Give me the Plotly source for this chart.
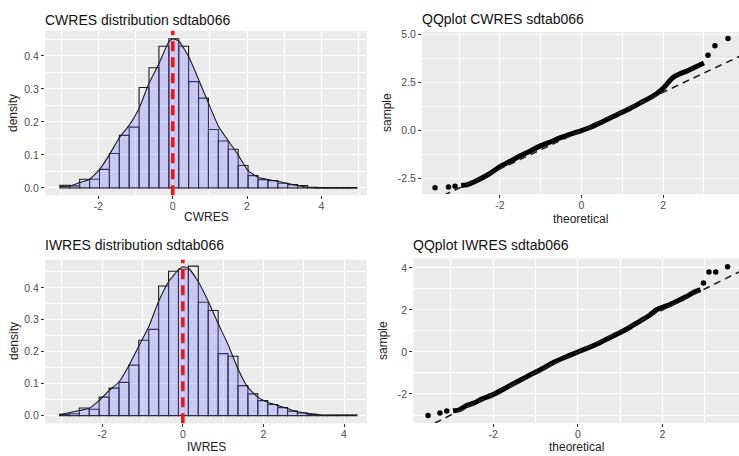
import numpy as np
import plotly.graph_objects as go

W, H = 739, 456
FONT = "Liberation Sans, Arial, sans-serif"

# ---------------- data ----------------
# CWRES histogram (density scale), 30 bins
cw_bin_start = -3.04
cw_bin_width = 0.2667
cw_hist = [0.008, 0.006, 0.026, 0.026, 0.056, 0.104, 0.159, 0.184, 0.304, 0.364,
           0.429, 0.452, 0.429, 0.322, 0.272, 0.177, 0.142, 0.117, 0.068, 0.037,
           0.025, 0.022, 0.014, 0.010, 0.007, 0.002, 0.001, 0.001, 0.001, 0.001]
cw_dens_x = [-3.04, -2.77, -2.51, -2.24, -1.97, -1.71, -1.44, -1.17, -0.91, -0.64,
             -0.37, -0.11, 0.0, 0.16, 0.43, 0.70, 0.96, 1.23, 1.50, 1.76,
             2.03, 2.30, 2.56, 2.83, 3.10, 3.37, 3.63, 3.90, 4.96]
cw_dens_y = [0.004, 0.006, 0.016, 0.026, 0.056, 0.100, 0.152, 0.190, 0.240, 0.317,
             0.377, 0.442, 0.452, 0.445, 0.397, 0.327, 0.257, 0.187, 0.142, 0.100,
             0.052, 0.032, 0.025, 0.020, 0.013, 0.007, 0.002, 0.000, 0.000]
cw_mean = 0.0

# IWRES histogram (density scale), 30 bins
iw_bin_start = -3.06
iw_bin_width = 0.246
iw_hist = [0.004, 0.006, 0.024, 0.020, 0.058, 0.086, 0.104, 0.158, 0.236, 0.270,
           0.406, 0.452, 0.458, 0.468, 0.355, 0.329, 0.194, 0.186, 0.094, 0.068,
           0.047, 0.035, 0.025, 0.014, 0.008, 0.004, 0.001, 0.002, 0.002, 0.002]
iw_dens_x = [-3.06, -2.57, -2.32, -2.08, -1.83, -1.58, -1.34, -1.09, -0.84, -0.60,
             -0.35, -0.11, 0.0, 0.13, 0.38, 0.63, 0.87, 1.12, 1.37, 1.61,
             1.86, 2.10, 2.35, 2.60, 2.84, 3.09, 3.34, 3.59, 4.32]
iw_dens_y = [0.003, 0.016, 0.023, 0.047, 0.078, 0.106, 0.156, 0.218, 0.280, 0.358,
             0.420, 0.456, 0.466, 0.463, 0.420, 0.358, 0.290, 0.223, 0.146, 0.089,
             0.058, 0.042, 0.032, 0.022, 0.012, 0.007, 0.003, 0.001, 0.001]
iw_mean = 0.0

# QQ CWRES: dense band and sparse extreme points (theoretical, sample)
qq_cw_band_t = [-2.95, -2.81, -2.65, -2.49, -2.25, -2.0, -1.75, -1.51, -1.25, -1.02,
                -0.75, -0.53, -0.25, 0.0, 0.25, 0.45, 0.70, 0.94, 1.20, 1.43,
                1.65, 1.84, 2.0, 2.10, 2.25, 2.40, 2.58, 2.82, 3.0]
qq_cw_band_s = [-2.86, -2.83, -2.70, -2.53, -2.25, -1.88, -1.60, -1.33, -1.06, -0.81,
                -0.58, -0.38, -0.17, 0.0, 0.20, 0.40, 0.65, 0.90, 1.17, 1.43,
                1.68, 1.92, 2.20, 2.45, 2.78, 2.95, 3.10, 3.34, 3.52]
qq_cw_pts_t = [-3.59, -3.26, -3.10, 3.10, 3.27, 3.59]
qq_cw_pts_s = [-2.98, -2.95, -2.91, 3.93, 4.42, 4.80]

# QQ IWRES
qq_iw_band_t = [-2.95, -2.80, -2.63, -2.47, -2.25, -2.0, -1.75, -1.53, -1.25, -1.06,
                -0.80, -0.58, -0.30, 0.0, 0.25, 0.52, 0.75, 0.99, 1.25, 1.46,
                1.70, 1.86, 2.17, 2.40, 2.57, 2.75, 2.90]
qq_iw_band_s = [-2.80, -2.75, -2.55, -2.44, -2.22, -2.03, -1.76, -1.52, -1.22, -1.02,
                -0.75, -0.50, -0.25, 0.0, 0.20, 0.44, 0.68, 0.91, 1.20, 1.46,
                1.75, 2.01, 2.25, 2.47, 2.64, 2.85, 2.97]
qq_iw_pts_t = [-3.54, -3.26, -3.10, 2.97, 3.10, 3.26, 3.54]
qq_iw_pts_s = [-3.02, -2.91, -2.81, 3.28, 3.80, 3.80, 4.06]

qq_line_slope = 1.0
qq_line_intercept = 0.0

titles = ["CWRES distribution sdtab066", "QQplot CWRES sdtab066",
          "IWRES distribution sdtab066", "QQplot IWRES sdtab066"]

hist_x_ticks = [-2, 0, 2, 4]
hist_x_labels = ["-2", "0", "2", "4"]
hist_y_ticks = [0.0, 0.1, 0.2, 0.3, 0.4]
hist_y_labels = ["0.0", "0.1", "0.2", "0.3", "0.4"]
qq_x_ticks = [-2, 0, 2]
qq_x_labels = ["-2", "0", "2"]
qq_cw_y_ticks = [-2.5, 0.0, 2.5, 5.0]
qq_cw_y_labels = ["-2.5", "0.0", "2.5", "5.0"]
qq_iw_y_ticks = [-2, 0, 2, 4]
qq_iw_y_labels = ["-2", "0", "2", "4"]

# ---------------- layout helpers ----------------
def xd(a, b):
    return [a / W, b / W]

def yd(top, bottom):
    return [1 - bottom / H, 1 - top / H]

BAR_LINE = "#1a1a1a"
DENS_FILL = "rgba(110,110,255,0.28)"
RED = "#f01414"

fig = go.Figure()

def add_hist(xa, ya, start, width, heights, dx, dy, mean):
    edges = start + width * np.arange(len(heights) + 1)
    centers = (edges[:-1] + edges[1:]) / 2
    fig.add_trace(go.Bar(x=centers, y=heights, width=width,
                         marker=dict(color="rgba(0,0,0,0)",
                                     line=dict(color=BAR_LINE, width=1.1)),
                         xaxis=xa, yaxis=ya, showlegend=False, hoverinfo="skip"))
    fig.add_trace(go.Scatter(x=dx, y=dy, mode="lines", fill="tozeroy",
                             fillcolor=DENS_FILL,
                             line=dict(color="#1a1a1a", width=1.1, shape="spline", smoothing=0.5),
                             xaxis=xa, yaxis=ya, showlegend=False, hoverinfo="skip"))
    fig.add_shape(type="line", xref=xa, yref=ya + " domain", x0=mean, x1=mean, y0=0, y1=1,
                  line=dict(color=RED, width=3.6, dash="10px,6px"))

def add_qq(xa, ya, bt, bs, pt, ps, xr):
    fig.add_trace(go.Scatter(x=bt, y=bs, mode="lines",
                             line=dict(color="black", width=5, shape="spline", smoothing=0.6),
                             xaxis=xa, yaxis=ya, showlegend=False, hoverinfo="skip"))
    fig.add_trace(go.Scatter(x=pt, y=ps, mode="markers",
                             marker=dict(color="black", size=5.5),
                             xaxis=xa, yaxis=ya, showlegend=False, hoverinfo="skip"))
    lx = np.array(xr)
    fig.add_trace(go.Scatter(x=lx, y=qq_line_intercept + qq_line_slope * lx, mode="lines",
                             line=dict(color="#222222", width=1.6, dash="7px,5px"),
                             xaxis=xa, yaxis=ya, showlegend=False, hoverinfo="skip"))

add_hist("x", "y", cw_bin_start, cw_bin_width, cw_hist, cw_dens_x, cw_dens_y, cw_mean)
add_hist("x3", "y3", iw_bin_start, iw_bin_width, iw_hist, iw_dens_x, iw_dens_y, iw_mean)

cw_qx = [-3.91, 3.86]
iw_qx = [-3.89, 3.81]
add_qq("x2", "y2", qq_cw_band_t, qq_cw_band_s, qq_cw_pts_t, qq_cw_pts_s, cw_qx)
add_qq("x4", "y4", qq_iw_band_t, qq_iw_band_s, qq_iw_pts_t, qq_iw_pts_s, iw_qx)

def axis(domain, rng, tv, tt, anchor, mtick0, mdtick, standoff=0):
    d = dict(domain=domain, range=rng, anchor=anchor,
             tickmode="array", tickvals=tv, ticktext=tt,
             showgrid=True, gridcolor="white", gridwidth=1.2,
             zeroline=False, showline=False,
             ticks="outside", ticklen=3, tickwidth=1, tickcolor="#333333",
             tickfont=dict(family=FONT, size=10.5, color="#4d4d4d"),
             minor=dict(showgrid=True, gridcolor="white", gridwidth=0.6,
                        tickmode="linear", tick0=mtick0, dtick=mdtick, ticks=""),
             fixedrange=True)
    if standoff:
        d["ticklabelstandoff"] = standoff
    return d

fig.update_layout(
    width=W, height=H, margin=dict(l=0, r=0, t=0, b=0),
    paper_bgcolor="white", plot_bgcolor="#EBEBEB", barmode="overlay",
    font=dict(family=FONT),
    xaxis=axis(xd(45, 367), [-3.44, 5.23], hist_x_ticks, hist_x_labels, "y", -1, 2, -2),
    yaxis=axis(yd(27, 193), [-0.0225, 0.476], hist_y_ticks, hist_y_labels, "x", 0.05, 0.1),
    xaxis3=axis(xd(45, 367), [-3.42, 4.57], hist_x_ticks, hist_x_labels, "y3", -1, 2, -2),
    yaxis3=axis(yd(258, 423), [-0.024, 0.488], hist_y_ticks, hist_y_labels, "x3", 0.05, 0.1),
    xaxis2=axis(xd(422, 739), cw_qx, qq_x_ticks, qq_x_labels, "y2", -1, 2, -2),
    yaxis2=axis(yd(28.3, 191.7), [-3.31, 5.14], qq_cw_y_ticks, qq_cw_y_labels, "x2", 1.25, 2.5),
    xaxis4=axis(xd(413.3, 739), iw_qx, qq_x_ticks, qq_x_labels, "y4", -1, 2, -2),
    yaxis4=axis(yd(256.7, 422.7), [-3.38, 4.45], qq_iw_y_ticks, qq_iw_y_labels, "x4", 1, 2),
)

# titles, left-aligned on each panel's left edge
for text, xr, y in [(titles[0], "x", 16), (titles[1], "x2", 15),
                    (titles[2], "x3", 243), (titles[3], "x4", 243)]:
    fig.add_annotation(text=text, x=0, y=1 - y / H, xref=xr + " domain", yref="paper",
                       xanchor="left", yanchor="middle", showarrow=False, xshift=-2,
                       font=dict(family=FONT, size=14, color="#111111"))

# axis titles
for text, x, y, ang in [("CWRES", 206, 215, 0), ("density", 13, 110, -90),
                        ("theoretical", 580, 217, 0), ("sample", 387, 110, -90),
                        ("IWRES", 206, 447, 0), ("density", 14, 340, -90),
                        ("theoretical", 576, 447, 0), ("sample", 383, 340, -90)]:
    fig.add_annotation(text=text, x=x / W, y=1 - y / H, xref="paper", yref="paper",
                       xanchor="center", yanchor="middle", showarrow=False, textangle=ang,
                       font=dict(family=FONT, size=12, color="#222222"))

fig.write_html("out.html")
